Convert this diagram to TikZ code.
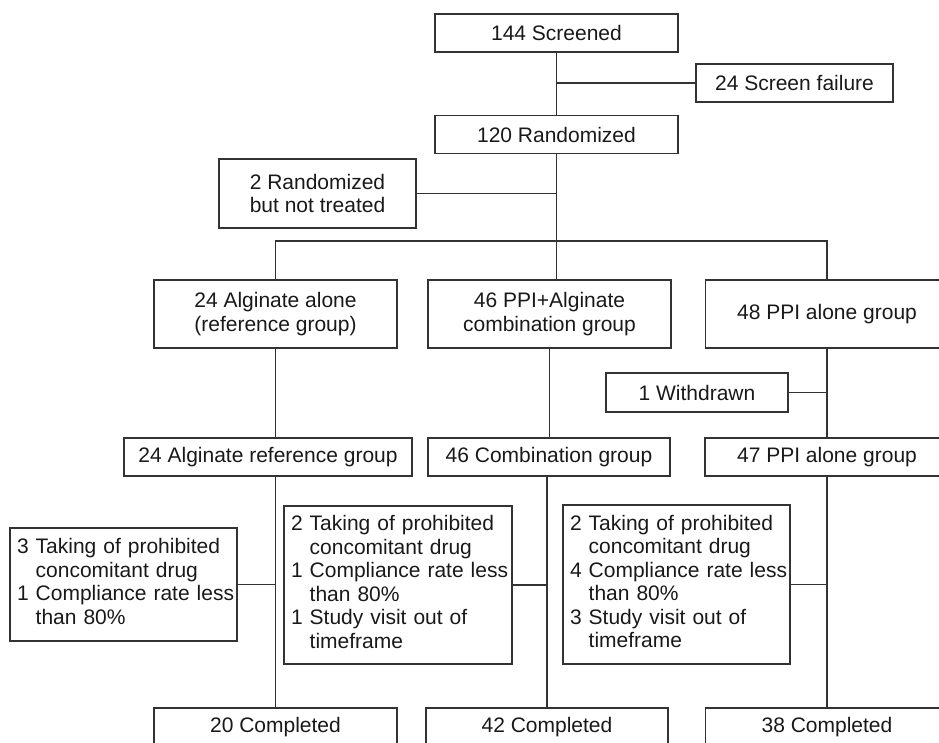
\documentclass[tikz,border=0pt]{standalone}
\usepackage{fontspec}
\setmainfont{Liberation Sans}
\usetikzlibrary{positioning}
\setlength{\parindent}{0pt}
\tikzstyle{link} = [line width=1.5pt, draw=black!80]

\begin{document}
\begin{tikzpicture}[x=1pt, y=-1pt,
    box/.style={rectangle, draw=black!80, line width=1.5pt, inner sep=0pt, minimum width=243pt, minimum height=38pt, align=center, text=black!90, font=\fontsize{21}{23.5}\selectfont},
    exbox/.style={box, minimum width=0pt, align=left, inner xsep=7pt, text width=213pt}]
    \useasboundingbox (0,0) rectangle (939,743);

    % Enrolment
    \node[box] (screened) at (556.5,33) {144 Screened};
    \node[box, minimum width=197pt] (failure) at (794.5,83) {24 Screen failure};
    \node[box, below=62pt of screened] (randomized) {120 Randomized};
    \node[box, minimum width=197pt, minimum height=69pt] (notreated) at (317.5,193.5) {2 Randomized\\but not treated};
    \coordinate (split) at (557,241);

    % Allocation
    \node[box, minimum height=68pt] (alone) at (275.5,314) {24 Alginate alone\\(reference group)};
    \node[box, minimum height=68pt] (combo) at (549.5,314) {46 PPI+Alginate\\combination group};
    \node[box, minimum height=68pt] (ppi) at (827,314) {48 PPI alone group};
    \node[box, minimum width=182pt, minimum height=39pt] (withdrawn) at (697,392.5) {1 Withdrawn};

    % Analysed groups
    \node[box, minimum width=288pt] (ref) at (268,457) {24 Alginate reference group};
    \node[box, minimum width=242pt] (comb) at (549,457) {46 Combination group};
    \node[box, minimum width=244pt] (ppitwo) at (827,457) {47 PPI alone group};

    % Exclusions
    \node[exbox, minimum height=113pt] (exl) at (123.5,584.5) {\begin{tabular}{@{}l@{ }l@{}}
        3 & Taking of prohibited\\ & concomitant drug\\
        1 & Compliance rate less\\ & than 80\%
    \end{tabular}};
    \node[exbox, text width=214pt, minimum height=158pt] (exm) at (398,585) {\begin{tabular}{@{}l@{ }l@{}}
        2 & Taking of prohibited\\ & concomitant drug\\
        1 & Compliance rate less\\ & than 80\%\\
        1 & Study visit out of\\ & timeframe
    \end{tabular}};
    \node[exbox, minimum height=159pt] (exr) at (676.5,584.5) {\begin{tabular}{@{}l@{ }l@{}}
        2 & Taking of prohibited\\ & concomitant drug\\
        4 & Compliance rate less\\ & than 80\%\\
        3 & Study visit out of\\ & timeframe
    \end{tabular}};

    % Completed
    \node[box] (cone) at (275.5,727) {20 Completed};
    \node[box, minimum width=242pt] (ctwo) at (547,727) {42 Completed};
    \node[box] (cthree) at (827,727) {38 Completed};

    % Connectors
    \draw[link] (screened) -- (randomized);
    \draw[link] (screened.south |- failure.west) -- (failure.west);
    \draw[link] (randomized.south) -- (randomized.south |- combo.north);
    \draw[link] (notreated.east) -- (notreated.east -| randomized.south);
    \draw[link] (alone.north) |- (split) -| (ppi.north);
    \draw[link] (alone.south) -- (alone.south |- ref.north);
    \draw[link] (combo.south) -- (combo.south |- comb.north);
    \draw[link] (ppi.south) -- (ppitwo.north);
    \draw[link] (withdrawn.east) -- (withdrawn.east -| ppi.south);
    \draw[link] (cone.north |- ref.south) -- (cone.north);
    \draw[link] (ctwo.north |- comb.south) -- (ctwo.north);
    \draw[link] (ppitwo.south) -- (cthree.north);
    \draw[link] (exl.east) -- (exl.east -| cone.north);
    \draw[link] (exm.east) -- (exm.east -| ctwo.north);
    \draw[link] (exr.east) -- (exr.east -| cthree.north);
\end{tikzpicture}
\end{document}
